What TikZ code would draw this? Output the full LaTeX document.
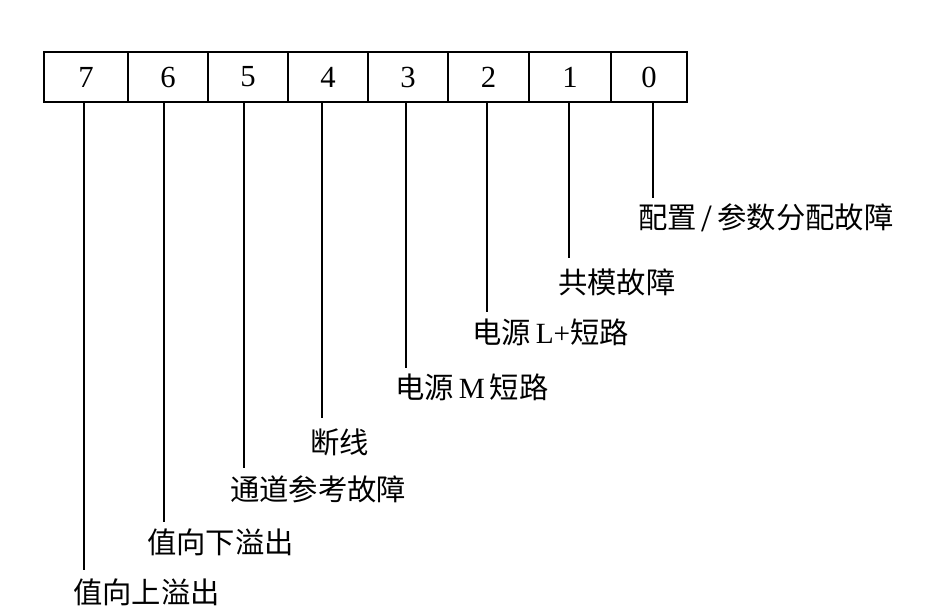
\documentclass[tikz,border=0pt]{standalone}
\usepackage{fontspec}
\setmainfont{Liberation Serif}
\newfontfamily\cjk{Noto Sans CJK SC}
\begin{document}
\begin{tikzpicture}[x=0.75pt,y=-0.75pt,
  cell/.style={draw,line width=1.2pt,rectangle,inner sep=0pt,minimum height=37.5pt,font=\fontsize{23}{27}\selectfont},
  lbl/.style={anchor=west,inner sep=0pt,font=\fontsize{22}{26}\selectfont},
  conn/.style={line width=1.3pt}]
\useasboundingbox (0,0) rectangle (947,612);
% bit cells
\node[cell,minimum width=63pt] (b7) at (86,77) {7};
\node[cell,minimum width=60pt] (b6) at (168,77) {6};
\node[cell,minimum width=60pt] (b5) at (248,77) {5};
\node[cell,minimum width=60pt] (b4) at (328,77) {4};
\node[cell,minimum width=60pt] (b3) at (408,77) {3};
\node[cell,minimum width=60.75pt] (b2) at (488.5,77) {2};
\node[cell,minimum width=61.5pt] (b1) at (570,77) {1};
\node[cell,minimum width=57pt] (b0) at (649,77) {0};
% line ends
\coordinate (e7) at (84,570);
\coordinate (e6) at (164,522);
\coordinate (e5) at (244,468);
\coordinate (e4) at (322,418);
\coordinate (e3) at (406,368);
\coordinate (e2) at (487,312);
\coordinate (e1) at (569,258);
\coordinate (e0) at (653,198);
% labels
\node[lbl] (l7) at (73,592) {\cjk 值向上溢出};
\node[lbl] (l6) at (147,542) {\cjk 值向下溢出};
\node[lbl] (l5) at (230,489) {\cjk 通道参考故障};
\node[lbl] (l4) at (310,442) {\cjk 断线};
\node[lbl] (l3) at (395,387) {{\cjk 电源}\,M\,{\cjk 短路}};
\node[lbl] (l2) at (472,332) {{\cjk 电源}\,L+{\cjk 短路}};
\node[lbl] (l1) at (558,282) {\cjk 共模故障};
\node[lbl] (l0) at (638,218) {{\cjk 配置}\,\raisebox{-0.12em}{\fontsize{29}{29}\selectfont /}\,{\cjk 参数分配故障}};
% connectors
\foreach \i in {0,...,7}{
  \draw[conn] (e\i |- b\i.south) -- (e\i);
}
\end{tikzpicture}
\end{document}
